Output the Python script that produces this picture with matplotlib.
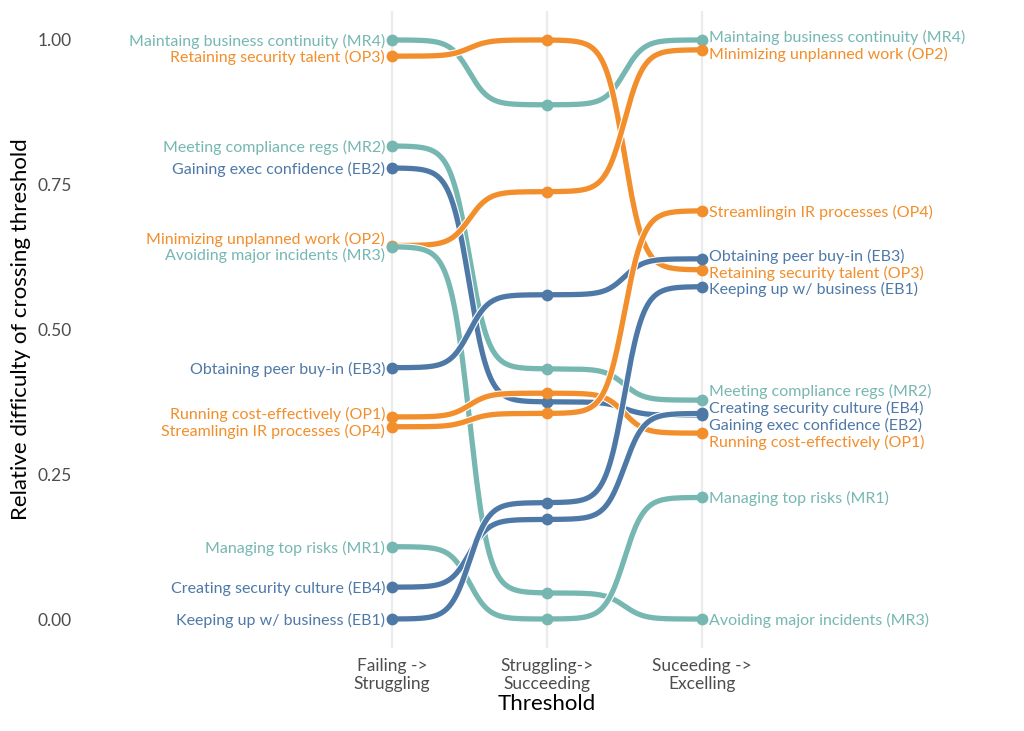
import numpy as np
import matplotlib
matplotlib.use("Agg")
import matplotlib.pyplot as plt
import matplotlib.patheffects as pe

plt.rcParams['font.family'] = ['Lato', 'DejaVu Sans']

# ---------------- data ----------------
thresholds = ["Failing ->\nStruggling", "Struggling->\nSucceeding", "Suceeding ->\nExcelling"]
labels = ["Maintaing business continuity (MR4)", "Retaining security talent (OP3)",
          "Meeting compliance regs (MR2)", "Gaining exec confidence (EB2)",
          "Minimizing unplanned work (OP2)", "Avoiding major incidents (MR3)",
          "Obtaining peer buy-in (EB3)", "Running cost-effectively (OP1)",
          "Streamlingin IR processes (OP4)", "Managing top risks (MR1)",
          "Creating security culture (EB4)", "Keeping up w/ business (EB1)"]
groups = ["MR", "OP", "MR", "EB", "OP", "MR", "EB", "OP", "OP", "MR", "EB", "EB"]
fail_to_struggle = [1.000, 0.972, 0.817, 0.779, 0.645, 0.643, 0.434, 0.349, 0.332, 0.125, 0.055, 0.000]
struggle_to_succeed = [0.888, 1.000, 0.432, 0.375, 0.738, 0.045, 0.560, 0.390, 0.355, 0.000, 0.172, 0.201]
succeed_to_excel = [1.000, 0.603, 0.378, 0.352, 0.983, 0.000, 0.622, 0.321, 0.705, 0.210, 0.355, 0.574]
group_colors = {"MR": "#76B7B2", "OP": "#F28E2B", "EB": "#4E79A7"}

# ---------------- helpers ----------------
def sigmoid_segment(x0, x1, y0, y1, smooth=8, n=100):
    t = np.linspace(-smooth, smooth, n)
    s = np.exp(t) / (np.exp(t) + 1)
    xs = x0 + (t + smooth) / (2 * smooth) * (x1 - x0)
    ys = y0 + (y1 - y0) * s
    return xs, ys

def repel(vals, gap):
    vals = np.asarray(vals, dtype=float)
    order = np.argsort(-vals, kind="stable")
    pos = vals[order].copy()
    for _ in range(500):
        moved = False
        for i in range(len(pos) - 1):
            d = pos[i] - pos[i + 1]
            if d < gap - 1e-9:
                push = (gap - d) / 2
                pos[i] += push
                pos[i + 1] -= push
                moved = True
        if not moved:
            break
    out = np.empty_like(pos)
    out[order] = pos
    return out

# ---------------- figure ----------------
W, H = 1024, 731
fig = plt.figure(figsize=(W / 100, H / 100), dpi=100)
ax = fig.add_axes([80 / W, 83 / H, (1014 - 80) / W, (648 - 11) / H])

xpos = [1, 2, 3]
series = np.array([fail_to_struggle, struggle_to_succeed, succeed_to_excel]).T

for vals, g in zip(series, groups):
    col = group_colors[g]
    X, Y = [], []
    for k in range(len(xpos) - 1):
        xs, ys = sigmoid_segment(xpos[k], xpos[k + 1], vals[k], vals[k + 1])
        X.append(xs)
        Y.append(ys)
    X = np.concatenate(X)
    Y = np.concatenate(Y)
    ax.plot(X, Y, color=col, lw=3.8, solid_capstyle="round", zorder=3,
            path_effects=[pe.Stroke(linewidth=5.4, foreground="white"), pe.Normal()])
    ax.plot(xpos, vals, "o", color=col, ms=8.5, zorder=4, mec="none")

gap = 0.029
left_pos = repel(fail_to_struggle, gap)
right_pos = repel(succeed_to_excel, gap)
for lab, g, yl, yr in zip(labels, groups, left_pos, right_pos):
    col = group_colors[g]
    ax.annotate(lab, xy=(1, yl), xytext=(-5, -1), textcoords="offset points",
                ha="right", va="center", color=col, fontsize=11.5, zorder=5)
    ax.annotate(lab, xy=(3, yr), xytext=(5, -1), textcoords="offset points",
                ha="left", va="center", color=col, fontsize=11.5, zorder=5)

ax.set_xlim(-1.013, 5.013)
ax.set_ylim(-0.05, 1.05)
ax.set_xticks(xpos)
ax.set_xticklabels(thresholds)
ax.set_yticks([0, 0.25, 0.5, 0.75, 1.0])
ax.set_yticklabels(["0.00", "0.25", "0.50", "0.75", "1.00"])
ax.tick_params(axis="both", length=0, labelsize=12.5, labelcolor="#4D4D4D")
ax.tick_params(axis="y", pad=6)
ax.tick_params(axis="x", pad=7)
for sp in ax.spines.values():
    sp.set_visible(False)
ax.grid(axis="x", color="#EBEBEB", lw=1.6, zorder=0)
ax.grid(axis="y", visible=False)
ax.set_axisbelow(True)

ax.set_xlabel("Threshold", fontsize=16, color="black", labelpad=1)
ax.set_ylabel("Relative difficulty of crossing threshold", fontsize=16, color="black")
ax.yaxis.set_label_coords((31 - 80) / (1014 - 80), 0.5)

fig.savefig("out.png", dpi=100, facecolor="white")
